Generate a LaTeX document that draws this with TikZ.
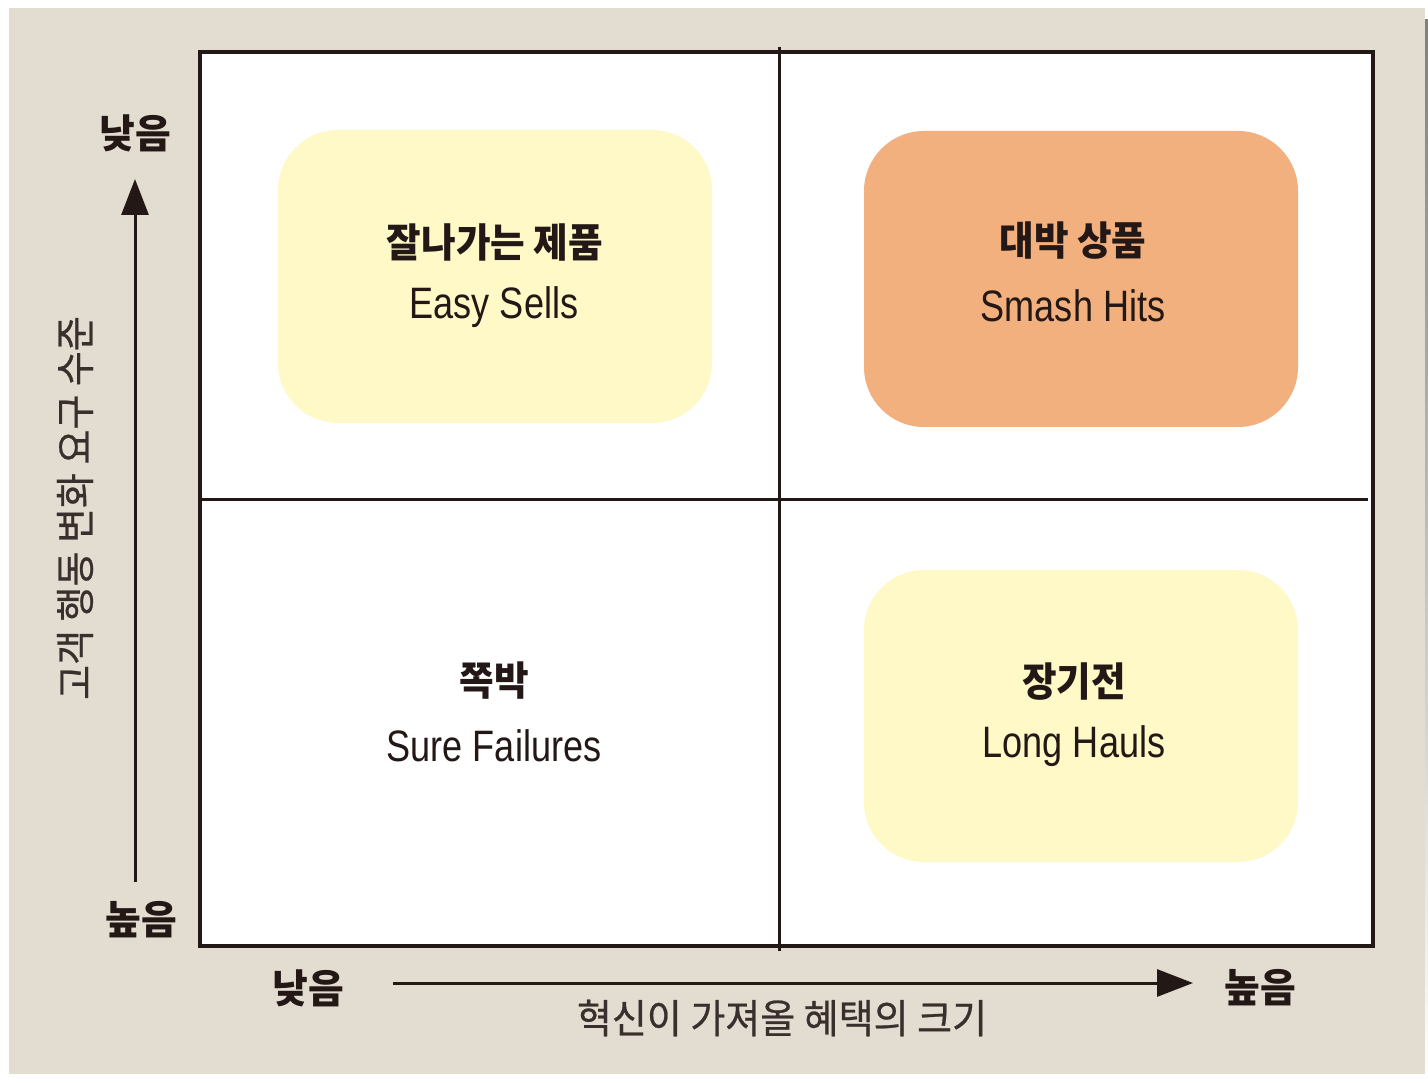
\documentclass[tikz,border=0pt]{standalone}
\usepackage{fontspec}
\usetikzlibrary{arrows.meta}
\newfontfamily\kr[FakeStretch=0.94]{Noto Sans CJK KR}
\newfontfamily\kraxis[FakeStretch=0.97]{Noto Sans CJK KR}
\newfontfamily\krtitlefont[FakeStretch=0.95,FakeBold=0.6]{Noto Sans CJK KR}
\newfontfamily\en[FakeStretch=0.82]{Liberation Sans}
\definecolor{bgbeige}{HTML}{E3DCD0}
\definecolor{shade}{HTML}{C0C0C0}
\definecolor{ink}{HTML}{231815}
\definecolor{softyellow}{HTML}{FEF9C6}
\definecolor{softorange}{HTML}{F2B07E}
\tikzset{
  qbox/.style={rounded corners=60pt, draw=none, minimum width=434pt, inner sep=0pt},
  krtitle/.style={font=\kr\bfseries\fontsize{40}{44}\selectfont, text=ink, inner sep=0pt},
  entitle/.style={font=\en\fontsize{44}{48}\selectfont, text=ink, inner sep=0pt},
  axislbl/.style={font=\kraxis\bfseries\fontsize{40}{44}\selectfont, text=ink, inner sep=0pt},
  axistitle/.style={font=\krtitlefont\fontsize{40}{44}\selectfont, text=ink!90, inner sep=0pt},
  frame/.style={draw=ink, line width=3.2pt},
  axisarrow/.style={draw=ink, line width=3pt, -{Triangle[length=36pt,width=27pt]}}
}
\begin{document}
\begin{tikzpicture}[x=1pt,y=-1pt]
\useasboundingbox (0,0) rectangle (1428,1083);
% shadow and background
\fill[shade] (21,20) rectangle (1428,1083);
\fill[bgbeige] (9,8) rectangle (1425,1074);
% quadrant frame
\fill[white] (200,52) rectangle (1373,946);
\draw[frame] (200,52) rectangle (1373,946);
\coordinate (vt) at (779.5,47);
\coordinate (vb) at (779.5,951);
\coordinate (hl) at (200,499.5);
\coordinate (hr) at (1368,499.5);
\draw[frame] (vt) -- (vb);
\draw[frame] (hl) -- (hr);
% boxes
\node[qbox, fill=softyellow, minimum height=293pt] (easy) at (495,276.5) {};
\node[qbox, fill=softorange, minimum height=296pt] (smash) at (1081,279) {};
\node[qbox, fill=softyellow, minimum height=292pt] (long) at (1081,716) {};
% titles
\node[krtitle] (easyk) at (495,242) {잘나가는 제품};
\node[entitle] (easye) at (494,307) {Easy Sells};
\node[krtitle] (smashk) at (1073,241) {대박 상품};
\node[entitle] (smashe) at (1073,306) {Smash Hits};
\node[krtitle] (surek) at (494,681) {쪽박};
\node[entitle] (suree) at (494,746) {Sure Failures};
\node[krtitle] (longk) at (1074,682) {장기전};
\node[entitle] (longe) at (1074,746) {Long Hauls};
% vertical axis
\node[axislbl] (ylow) at (135,133) {낮음};
\node[axislbl] (yhigh) at (141,920) {높음};
\coordinate (yfrom) at (135,882);
\coordinate (yto) at (135,179);
\draw[axisarrow] (yfrom) -- (yto);
\node[axistitle, rotate=90] (ytitle) at (75,508) {고객 행동 변화 요구 수준};
% horizontal axis
\node[axislbl] (xlow) at (308,988) {낮음};
\node[axislbl] (xhigh) at (1260,988) {높음};
\coordinate (xfrom) at (393,983);
\coordinate (xto) at (1193,983);
\draw[axisarrow] (xfrom) -- (xto);
\node[axistitle] (xtitle) at (782,1018) {혁신이 가져올 혜택의 크기};
\end{tikzpicture}
\end{document}
